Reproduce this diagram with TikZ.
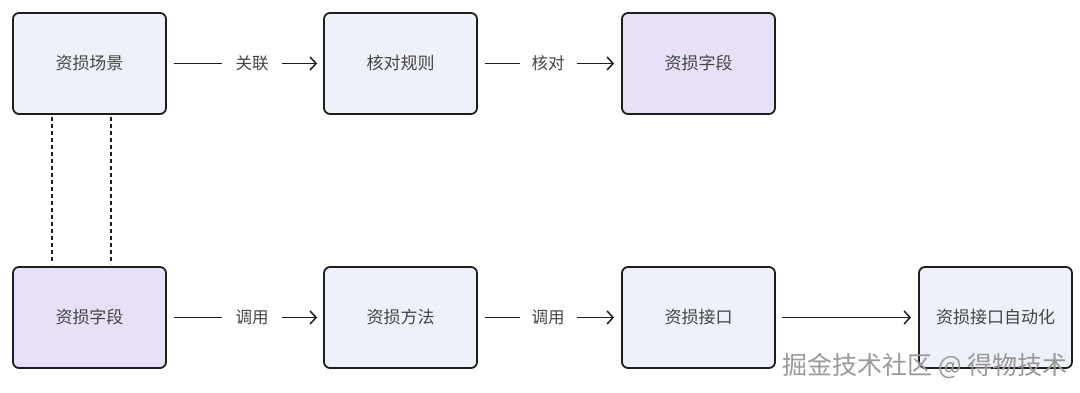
\documentclass[tikz,border=0pt]{standalone}
\usepackage{fontspec}
\setmainfont{Noto Sans CJK SC}
\newfontfamily\cjk{Noto Sans CJK SC}
\usetikzlibrary{arrows.meta}
\definecolor{bluefill}{HTML}{EEF1F9}
\definecolor{purplefill}{HTML}{E7E0F7}
\definecolor{edgecol}{HTML}{1E1E1E}
\definecolor{txtcol}{HTML}{444444}
\tikzset{
  box/.style={draw=edgecol, line width=1.8pt, rounded corners=6pt, minimum width=153pt, minimum height=101pt, inner sep=0pt, font=\cjk\fontsize{17}{20}\selectfont, text=txtcol},
  bluebox/.style={box, fill=bluefill},
  purplebox/.style={box, fill=purplefill},
  conn/.style={draw=edgecol, line width=1.5pt},
  arr/.style={conn, -{Straight Barb[length=6pt,width=13pt,line width=1.5pt]}},
  lbl/.style={font=\cjk\fontsize{16.5}{20}\selectfont, text=txtcol, inner sep=0pt},
  dashline/.style={draw=edgecol, line width=1.5pt, dash pattern=on 4pt off 3pt},
}
\begin{document}
\begin{tikzpicture}[x=1pt,y=-1pt]
\useasboundingbox (0,0) rectangle (1080,393);
\fill[white] (0,0) rectangle (1080,393);
% top row
\node[bluebox] (scene) at (89.5,63.5) {资损场景};
\node[bluebox] (rule) at (400.5,63.5) {核对规则};
\node[purplebox] (fieldtop) at (698.5,63.5) {资损字段};
% bottom row
\node[purplebox] (fieldbot) at (89.5,317.5) {资损字段};
\node[bluebox] (method) at (400.5,317.5) {资损方法};
\node[bluebox] (api) at (698.5,317.5) {资损接口};
\node[bluebox] (auto) at (995.5,317.5) {资损接口自动化};
% labels
\node[lbl] (l1) at (252,63.5) {关联};
\node[lbl] (l2) at (548,63.5) {核对};
\node[lbl] (l3) at (252,317.5) {调用};
\node[lbl] (l4) at (548,317.5) {调用};
% connectors top
\draw[conn] ([xshift=7pt]scene.east) -- ([xshift=-13pt]l1.west);
\draw[arr] ([xshift=13pt]l1.east) -- ([xshift=-6pt]rule.west);
\draw[conn] ([xshift=7pt]rule.east) -- ([xshift=-11pt]l2.west);
\draw[arr] ([xshift=12pt]l2.east) -- ([xshift=-7pt]fieldtop.west);
% connectors bottom
\draw[conn] ([xshift=7pt]fieldbot.east) -- ([xshift=-13pt]l3.west);
\draw[arr] ([xshift=13pt]l3.east) -- ([xshift=-6pt]method.west);
\draw[conn] ([xshift=7pt]method.east) -- ([xshift=-11pt]l4.west);
\draw[arr] ([xshift=12pt]l4.east) -- ([xshift=-7pt]api.west);
\draw[arr] ([xshift=6pt]api.east) -- ([xshift=-7pt]auto.west);
% dashed links
\coordinate (d1a) at (52,117);
\coordinate (d1b) at (52,264);
\coordinate (d2a) at (111,117);
\coordinate (d2b) at (111,264);
\draw[dashline] (d1a) -- (d1b);
\draw[dashline] (d2a) -- (d2b);
% watermark
\node[font=\cjk\fontsize{25}{28}\selectfont, text=gray!80, anchor=east, inner sep=0pt] (wm) at (1068,366) {掘金技术社区 @ 得物技术};
\end{tikzpicture}
\end{document}
